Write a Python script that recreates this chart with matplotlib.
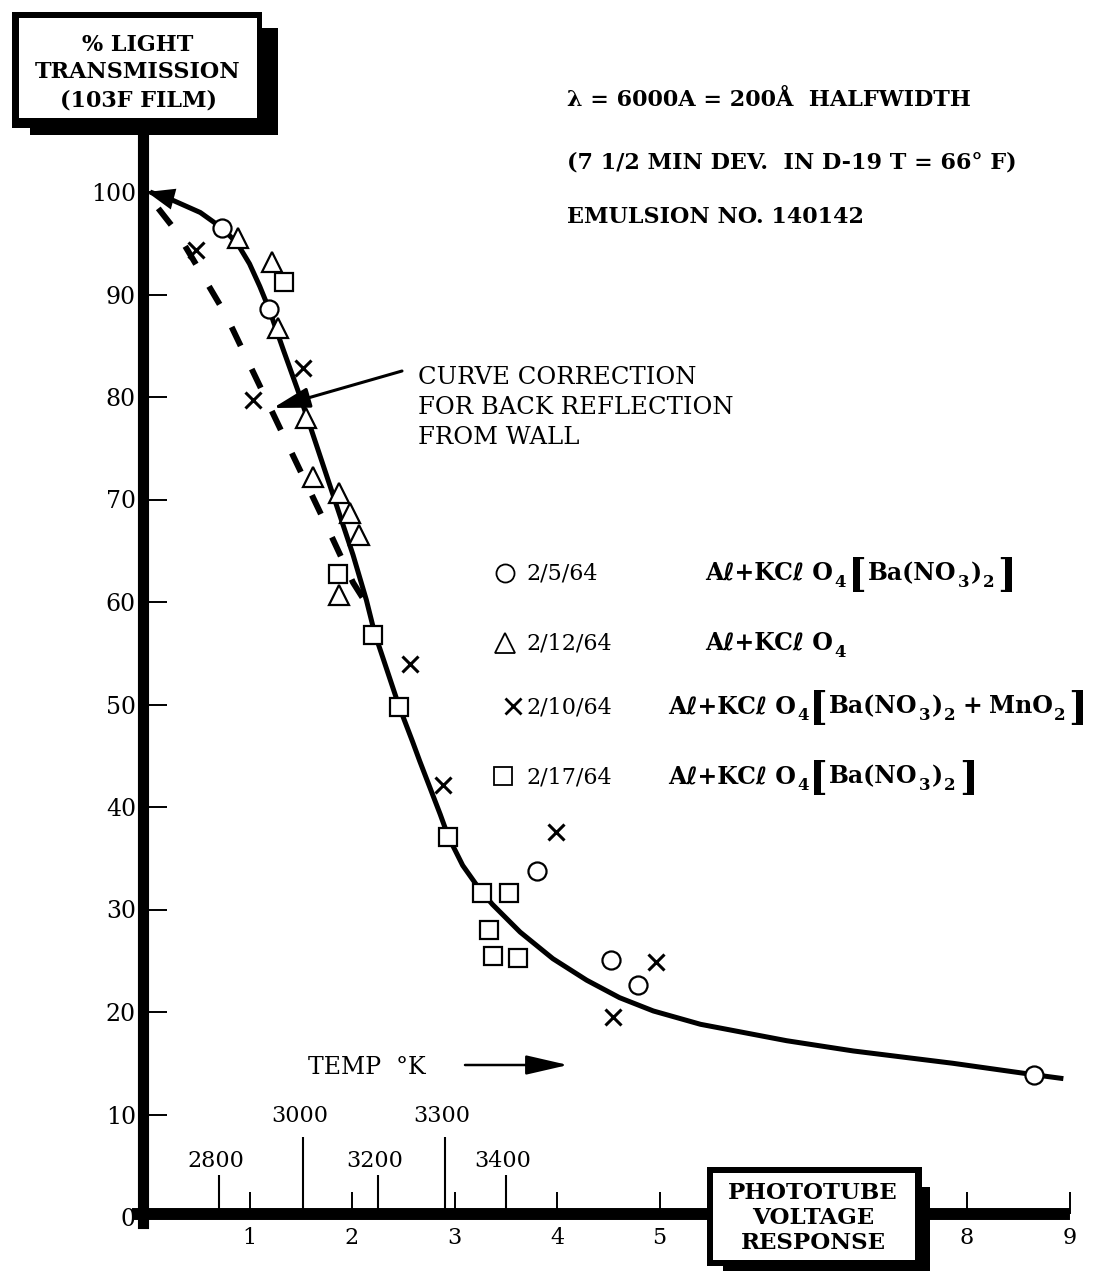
import matplotlib
matplotlib.use("Agg")
import matplotlib.pyplot as plt
from matplotlib.patches import Rectangle

plt.rcParams['font.family'] = ['DejaVu Serif', 'DejaVu Sans']
plt.rcParams['mathtext.fontset'] = 'dejavuserif'

# ---------------- data ----------------
main_x = [0.03, 0.25, 0.52, 0.73, 0.88, 1.00, 1.10, 1.19, 1.33, 1.47, 1.57, 1.79,
          2.01, 2.14, 2.22, 2.46, 2.59, 2.66, 2.86, 2.94, 3.08, 3.25, 3.37, 3.64,
          3.96, 4.29, 4.61, 4.94, 5.40, 6.24, 6.89, 7.86, 8.64, 8.94]
main_y = [100.0, 99.2, 98.0, 96.5, 95.0, 93.0, 90.8, 88.6, 84.6, 80.7, 77.8, 71.2,
          64.6, 60.2, 57.0, 49.8, 46.4, 44.5, 39.3, 37.1, 34.3, 31.9, 30.5, 27.8,
          25.2, 23.1, 21.4, 20.1, 18.8, 17.2, 16.2, 15.0, 13.9, 13.5]

dash_x = [0.11, 0.29, 0.54, 0.77, 0.98, 1.20, 1.40, 1.61, 1.81, 2.01, 2.13]
dash_y = [98.4, 96.1, 91.9, 88.0, 83.6, 79.0, 74.8, 70.4, 66.2, 61.9, 60.0]

circle_x = [0.73, 1.19, 3.80, 4.53, 4.79, 8.65]
circle_y = [96.5, 88.6, 33.8, 25.1, 22.6, 13.9]
tri_x = [0.89, 1.22, 1.28, 1.55, 1.62, 1.87, 1.98, 2.07, 1.87]
tri_y = [95.5, 93.2, 86.7, 78.0, 72.2, 70.6, 68.7, 66.5, 60.7]
cross_x = [0.48, 1.03, 1.52, 2.57, 2.89, 3.99, 4.55, 4.97]
cross_y = [94.3, 79.7, 82.8, 54.0, 42.1, 37.6, 19.5, 24.9]
sq_x = [1.34, 1.86, 2.20, 2.46, 2.94, 3.27, 3.53, 3.34, 3.38, 3.62]
sq_y = [91.2, 62.7, 56.8, 49.8, 37.1, 31.6, 31.6, 28.0, 25.5, 25.3]

y_ticks = [0, 10, 20, 30, 40, 50, 60, 70, 80, 90, 100]
y_tick_labels = ['0', '10', '20', '30', '40', '50', '60', '70', '80', '90', '100']
x_ticks = [1, 2, 3, 4, 5, 8, 9]
x_tick_labels = ['1', '2', '3', '4', '5', '8', '9']

temp_x = [0.70, 1.52, 2.25, 2.91, 3.50]
temp_labels = ['2800', '3000', '3200', '3300', '3400']
temp_row = [0, 1, 0, 1, 0]

legend_dates = ['2/5/64', '2/12/64', '2/10/64', '2/17/64']
# formula pieces: (text, kind) with kind main / sub / br (big bracket) / gap (pixels)
legend_formulas = [
    [('Aℓ+KCℓ O', 'main'), ('4', 'sub'), (2, 'gap'), ('[', 'br'), ('Ba(NO', 'main'),
     ('3', 'sub'), (')', 'main'), ('2', 'sub'), (2, 'gap'), (']', 'br')],
    [('Aℓ+KCℓ O', 'main'), ('4', 'sub')],
    [('Aℓ+KCℓ O', 'main'), ('4', 'sub'), ('[', 'br'), ('Ba(NO', 'main'),
     ('3', 'sub'), (')', 'main'), ('2', 'sub'), (6, 'gap'), ('+', 'main'),
     (6, 'gap'), ('MnO', 'main'), ('2', 'sub'), (2, 'gap'), (']', 'br')],
    [('Aℓ+KCℓ O', 'main'), ('4', 'sub'), ('[', 'br'), ('Ba(NO', 'main'),
     ('3', 'sub'), (')', 'main'), ('2', 'sub'), (3, 'gap'), (']', 'br')],
]

# ---------------- layout ----------------
W, H = 1095, 1271
X0, SX, Y0, SY = 147.0, 102.5, 1217.0, 10.25


def px(x, y):
    """pixel position of the reference picture -> data coordinates"""
    return ((x - X0) / SX, (Y0 - y) / SY)


fig = plt.figure(figsize=(W / 100, H / 100), dpi=100)
fig.patch.set_facecolor('white')
ax = fig.add_axes([0, 0, 1, 1])
ax.set_xlim(-X0 / SX, (W - X0) / SX)
ax.set_ylim((Y0 - H) / SY, Y0 / SY)
ax.patch.set_facecolor('white')
renderer = fig.canvas.get_renderer()

for s in ('top', 'right'):
    ax.spines[s].set_visible(False)
ax.spines['left'].set_position(('data', -0.04))
ax.spines['left'].set_bounds(-0.6, 105.8)
ax.spines['left'].set_linewidth(8)
ax.spines['bottom'].set_position(('data', 0.25))
ax.spines['bottom'].set_bounds(-0.09, 8.95)
ax.spines['bottom'].set_linewidth(8.6)

ax.set_yticks(y_ticks)
ax.set_yticklabels(y_tick_labels)
ax.tick_params(axis='y', direction='in', length=17, width=1.4, pad=5, labelsize=17)
ax.set_xticks(x_ticks)
ax.set_xticklabels(x_tick_labels)
ax.tick_params(axis='x', direction='in', length=16, width=1.4, pad=9, labelsize=16)

# curves
ax.plot(main_x, main_y, color='black', lw=3.6, solid_capstyle='butt',
        solid_joinstyle='round', zorder=3)
ax.annotate('', xy=(0.0, 100.0), xytext=(0.3, 99.2),
            arrowprops=dict(arrowstyle='-|>,head_length=0.9,head_width=0.35',
                            mutation_scale=22, lw=0, color='black',
                            shrinkA=0, shrinkB=0), zorder=3)
ax.plot(dash_x, dash_y, color='black', lw=4.3, linestyle=(0, (3.5, 4.3)),
        dash_capstyle='butt', zorder=3)

# markers
mk = dict(ls='none', mfc='white', mec='black', zorder=4)
ax.plot(circle_x, circle_y, 'o', ms=13, mew=1.6, **mk)
ax.plot(tri_x, tri_y, '^', ms=14, mew=1.6, **mk)
ax.plot(sq_x, sq_y, 's', ms=13, mew=1.6, **mk)
ax.plot(cross_x, cross_y, 'x', ms=12, mew=2.2, ls='none', color='black', zorder=4)

# temperature scale
row_top = [4.1, 7.8]
row_lab = [5.5, 9.9]
ax.vlines(temp_x, 0.25, [row_top[r] for r in temp_row], color='black', lw=1.5, zorder=2)
for tx, tl, r in zip(temp_x, temp_labels, temp_row):
    ax.text(tx - 0.03, row_lab[r], tl, ha='center', va='center', fontsize=16)
ax.text(*px(308, 1068), 'TEMP  °K', ha='left', va='center', fontsize=17)
ax.annotate('', xy=px(568, 1065), xytext=px(465, 1065),
            arrowprops=dict(arrowstyle='-|>,head_length=1.3,head_width=0.3',
                            mutation_scale=20, lw=1.8, color='black',
                            shrinkA=0, shrinkB=0))


# boxes
def rect_px(x1, y1, x2, y2, color, z):
    a, b = px(x1, y2)
    c, d = px(x2, y1)
    ax.add_patch(Rectangle((a, b), c - a, d - b, facecolor=color,
                           edgecolor='none', zorder=z))


rect_px(12, 12, 262, 128, 'black', 6)
rect_px(30, 28, 278, 135, 'black', 6)
rect_px(19, 18, 257, 118, 'white', 6.1)
for (bx, by), t in zip([(138, 45), (138, 72), (138, 100)],
                       ['% LIGHT', 'TRANSMISSION', '(103F FILM)']):
    ax.text(*px(bx, by), t, ha='center', va='center', fontsize=16,
            fontweight='bold', zorder=7)

rect_px(707, 1167, 922, 1266, 'black', 6)
rect_px(723, 1187, 930, 1271, 'black', 6)
rect_px(713, 1173, 915, 1260, 'white', 6.1)
for by, t in zip([1193, 1218, 1243], ['PHOTOTUBE', 'VOLTAGE', 'RESPONSE']):
    ax.text(*px(813, by), t, ha='center', va='center', fontsize=16.5,
            fontweight='bold', zorder=7)

# header notes
for by, t in zip([100, 162, 217],
                 ['λ = 6000A = 200Å  HALFWIDTH',
                  '(7 1/2 MIN DEV.  IN D-19 T = 66° F)',
                  'EMULSION NO. 140142']):
    ax.text(*px(567, by), t, ha='left', va='center', fontsize=16, fontweight='bold')

# annotation
for by, t in zip([378, 408, 438], ['CURVE CORRECTION', 'FOR BACK REFLECTION', 'FROM WALL']):
    ax.text(*px(418, by), t, ha='left', va='center', fontsize=17.5)
ax.annotate('', xy=px(273, 408), xytext=px(402, 371),
            arrowprops=dict(arrowstyle='-|>,head_length=0.9,head_width=0.25',
                            mutation_scale=25, lw=2.2, color='black',
                            shrinkA=0, shrinkB=0), zorder=5)


# legend
def place_seq(x0, base, pieces):
    x = x0
    for s, kind in pieces:
        if kind == 'gap':
            x += s
            continue
        size, dy = {'main': (17, 0), 'sub': (12, 7), 'br': (29, 7)}[kind]
        t = ax.text(*px(x, base + dy), s, fontsize=size, fontweight='bold',
                    ha='left', va='baseline')
        bb = t.get_window_extent(renderer=renderer)
        x += bb.width + 1


leg_base = [580, 650, 713, 783]
leg_marker = [('o', 505, 13), ('^', 505, 14), ('x', 513, 12), ('s', 503, 13)]
leg_form_x = [705, 705, 668, 668]
for base, (m, mx, ms), d, f, fx in zip(leg_base, leg_marker, legend_dates,
                                       legend_formulas, leg_form_x):
    lx, ly = px(mx, base - 7)
    if m == 'x':
        ax.plot([lx], [ly], m, ms=ms, mew=2.0, color='black', ls='none')
    else:
        ax.plot([lx], [ly], m, ms=ms, mew=1.3, mfc='white', mec='black', ls='none')
    ax.text(*px(526, base), d, ha='left', va='baseline', fontsize=16)
    place_seq(fx, base, f)

fig.savefig('out.png', dpi=100, facecolor='white')
